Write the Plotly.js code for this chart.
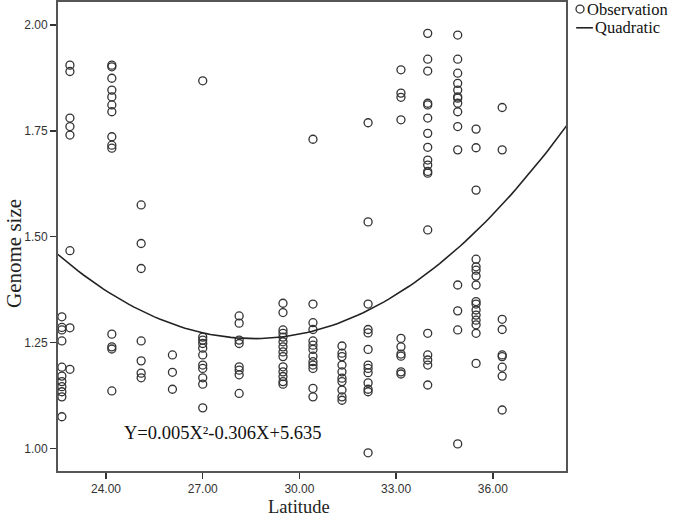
<!DOCTYPE html>
<html>
<head>
<meta charset="utf-8">
<script src="https://cdn.plot.ly/plotly-3.0.1.min.js"></script>
<style>
  html, body { margin: 0; padding: 0; background: #fff; }
  #chart { width: 685px; height: 520px; }
</style>
</head>
<body>
<div id="chart"></div>
<script>
// Latitude of each sampling column
const latitudes = [22.63, 22.88, 24.18, 25.09, 26.06, 27.00, 28.13, 29.49,
                   30.42, 31.32, 32.13, 33.15, 33.98, 34.91, 35.48, 36.29];

// Genome size values observed at each latitude (same order)
const genomeSizes = [
    [1.311, 1.286, 1.280, 1.254, 1.192, 1.171, 1.158, 1.146, 1.134, 1.122, 1.075],
    [1.905, 1.890, 1.780, 1.760, 1.740, 1.467, 1.285, 1.187],
    [1.905, 1.901, 1.874, 1.846, 1.830, 1.811, 1.795, 1.736, 1.716, 1.709, 1.270, 1.240, 1.235, 1.136],
    [1.575, 1.484, 1.425, 1.254, 1.207, 1.178, 1.167],
    [1.221, 1.180, 1.140],
    [1.868, 1.263, 1.256, 1.248, 1.237, 1.221, 1.197, 1.189, 1.167, 1.152, 1.096],
    [1.313, 1.296, 1.256, 1.248, 1.193, 1.185, 1.174, 1.130],
    [1.343, 1.321, 1.280, 1.272, 1.263, 1.252, 1.240, 1.228, 1.217, 1.193, 1.181, 1.170, 1.158, 1.152],
    [1.730, 1.341, 1.297, 1.281, 1.254, 1.244, 1.234, 1.218, 1.205, 1.197, 1.189, 1.142, 1.122],
    [1.242, 1.225, 1.217, 1.197, 1.181, 1.166, 1.158, 1.138, 1.122, 1.114],
    [1.769, 1.535, 1.341, 1.281, 1.273, 1.234, 1.197, 1.189, 1.179, 1.155, 1.140, 1.134, 0.990],
    [1.894, 1.839, 1.829, 1.776, 1.260, 1.240, 1.223, 1.218, 1.181, 1.176],
    [1.980, 1.919, 1.891, 1.815, 1.811, 1.780, 1.744, 1.711, 1.681, 1.669, 1.654, 1.650, 1.516, 1.272, 1.221, 1.209, 1.197, 1.150],
    [1.976, 1.919, 1.886, 1.862, 1.846, 1.830, 1.827, 1.815, 1.795, 1.760, 1.705, 1.386, 1.325, 1.280, 1.011],
    [1.754, 1.710, 1.610, 1.447, 1.429, 1.421, 1.407, 1.386, 1.347, 1.341, 1.327, 1.315, 1.303, 1.292, 1.272, 1.201],
    [1.805, 1.705, 1.305, 1.281, 1.221, 1.217, 1.192, 1.171, 1.091]
];

// Quadratic fit coefficients (y = a*x^2 + b*x + c)
const fitA = 0.00535, fitB = -0.306, fitC = 5.635;
const fitRange = [22.5, 38.3];

const xTicks = [24, 27, 30, 33, 36];
const yTicks = [1.00, 1.25, 1.50, 1.75, 2.00];

// flatten observations
const obsX = [], obsY = [];
latitudes.forEach((lat, i) => {
    genomeSizes[i].forEach(v => { obsX.push(lat); obsY.push(v); });
});

// fitted curve
const curveX = [], curveY = [];
for (let k = 0; k <= 100; k++) {
    const x = fitRange[0] + (fitRange[1] - fitRange[0]) * k / 100;
    curveX.push(x);
    curveY.push(fitA * x * x + fitB * x + fitC);
}

const serif = '"Liberation Serif", "Times New Roman", serif';
const sans = '"Liberation Sans", Arial, sans-serif';

const traces = [
    {
        x: obsX, y: obsY,
        type: 'scatter', mode: 'markers', name: 'Observation',
        marker: {symbol: 'circle-open', size: 8, color: '#333', line: {width: 1.3, color: '#333'}},
        cliponaxis: false
    },
    {
        x: curveX, y: curveY,
        type: 'scatter', mode: 'lines', name: 'Quadratic',
        line: {color: '#222', width: 1.6}
    }
];

const axisCommon = {
    ticks: 'outside', ticklen: 6, tickwidth: 1.5, tickcolor: '#333',
    showgrid: false, zeroline: false,
    showline: true, mirror: true, linecolor: '#555', linewidth: 2,
    tickfont: {family: sans, size: 12, color: '#333'}
};

const layout = {
    width: 685, height: 520,
    margin: {l: 58, r: 119, t: 2, b: 49},
    paper_bgcolor: '#fff', plot_bgcolor: '#fff',
    showlegend: false,
    xaxis: Object.assign({range: [22.51, 38.27], tickvals: xTicks, tickformat: '.2f'}, axisCommon),
    yaxis: Object.assign({range: [0.947, 2.054], tickvals: yTicks, tickformat: '.2f'}, axisCommon),
    shapes: [
        // legend keys
        {type: 'circle', xref: 'paper', yref: 'paper', xsizemode: 'pixel', ysizemode: 'pixel',
         xanchor: 1.0276, yanchor: 0.985, x0: -4, x1: 4, y0: -4, y1: 4,
         line: {color: '#333', width: 1.3}},
        {type: 'line', xref: 'paper', yref: 'paper', x0: 1.02, x1: 1.053, y0: 0.945, y1: 0.945,
         line: {color: '#222', width: 1.6}}
    ],
    annotations: [
        {x: 24.5, y: 1.037, xref: 'x', yref: 'y', xanchor: 'left', yanchor: 'middle',
         showarrow: false, text: 'Y=0.005X²-0.306X+5.635',
         font: {family: serif, size: 18.5, color: '#111'}},
        {x: 1.038, y: 0.985, xref: 'paper', yref: 'paper', xanchor: 'left', yanchor: 'middle',
         showarrow: false, text: 'Observation', font: {family: serif, size: 16.5, color: '#111'}},
        {x: 1.053, y: 0.945, xref: 'paper', yref: 'paper', xanchor: 'left', yanchor: 'middle',
         showarrow: false, text: 'Quadratic', font: {family: serif, size: 16.5, color: '#111'}},
        // axis titles
        {x: 0.4744, y: -0.077, xref: 'paper', yref: 'paper', xanchor: 'center', yanchor: 'middle',
         showarrow: false, text: 'Latitude', font: {family: serif, size: 18.5, color: '#222'}},
        {x: -0.0866, y: 0.4627, xref: 'paper', yref: 'paper', xanchor: 'center', yanchor: 'middle',
         showarrow: false, textangle: -90, text: 'Genome size', font: {family: serif, size: 21, color: '#222'}}
    ]
};

Plotly.newPlot('chart', traces, layout, {displayModeBar: false, staticPlot: true});
</script>
</body>
</html>
